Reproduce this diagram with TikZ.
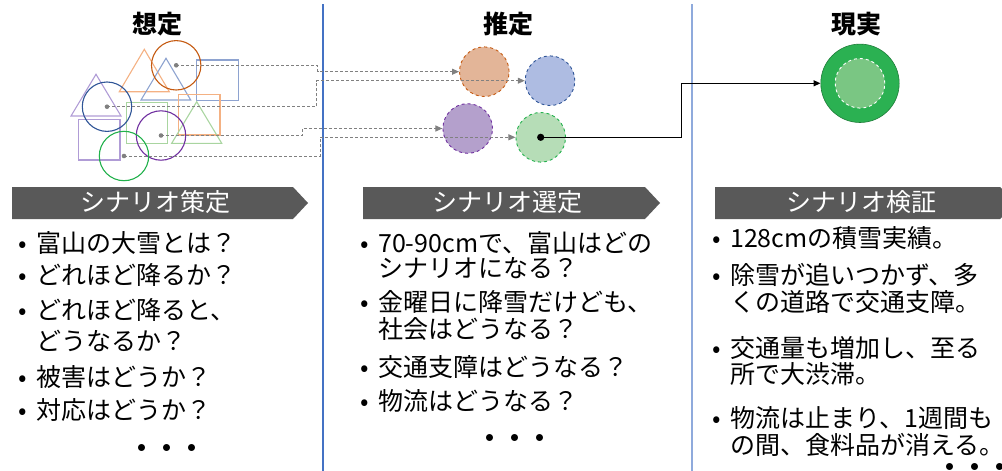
\documentclass[tikz,border=0pt]{standalone}
\usepackage{fontspec}
\setmainfont{Noto Sans CJK JP}
\usetikzlibrary{arrows.meta}
\definecolor{cOrange}{HTML}{C55A11}
\definecolor{cOrangeL}{HTML}{F4B183}
\definecolor{cBlue}{HTML}{2F5597}
\definecolor{cBlueL}{HTML}{8EA3D0}
\definecolor{cPurple}{HTML}{7030A0}
\definecolor{cPurpleL}{HTML}{B09CD6}
\definecolor{cGreen}{HTML}{22B14C}
\definecolor{cGreenL}{HTML}{A9D5A0}
\definecolor{fOrange}{HTML}{E3B598}
\definecolor{fBlue}{HTML}{AEBCE2}
\definecolor{fPurple}{HTML}{B4A0CC}
\definecolor{fGreen}{HTML}{B6DDB7}
\definecolor{realG}{HTML}{2BB152}
\definecolor{realGin}{HTML}{7AC683}
\definecolor{banner}{HTML}{595959}
\definecolor{divA}{HTML}{4472C4}
\definecolor{divB}{HTML}{8FAADC}
\definecolor{conngray}{HTML}{808080}
\newcommand{\bul}{\llap{\makebox[26pt][c]{•}}}
\begin{document}
\begin{tikzpicture}[x=1pt,y=-1pt,
  shp/.style={line width=1.1pt},
  ring/.style={circle, draw, line width=1.1pt, minimum size=49.4pt, inner sep=0pt},
  est/.style={circle, draw, dashed, line width=0.9pt, minimum size=49.6pt, inner sep=0pt},
  conn/.style={draw=conngray, line width=1pt, dash pattern=on 3pt off 2pt, -{Triangle[length=7pt,width=6pt]}},
  solidconn/.style={draw=black, line width=1.2pt, -{Triangle[length=7pt,width=6pt]}},
  item/.style={anchor=west, inner sep=0pt, font=\fontsize{25}{30}\selectfont, text height=21.5pt, text depth=3.5pt},
  headtxt/.style={inner sep=0pt, text=white, font=\fontsize{25}{30}\selectfont, text height=21.5pt, text depth=3.5pt},
  title/.style={inner sep=0pt, font=\bfseries\fontsize{25}{30}\selectfont, text height=21.5pt, text depth=3.5pt},
  dotsnode/.style={inner sep=0pt, font=\bfseries\fontsize{25}{30}\selectfont, text height=21.5pt, text depth=3.5pt}]
\useasboundingbox (0,0) rectangle (1002,471);

% dividers
\draw[divA, line width=1.2pt] (323,4) -- (323,471);
\draw[divB, line width=1.2pt] (692,4) -- (692,471);

% titles
\node[title] (t1) at (157,24) {想定};
\node[title] (t2) at (508,24) {推定};
\node[title] (t3) at (856,24) {現実};

% left cluster: triangles and squares
\draw[shp, cOrangeL] (144.3,49.3) -- (169.3,91.7) -- (119.3,91.7) -- cycle;
\draw[shp, cBlueL] (166,58.3) -- (190.7,100) -- (141,100) -- cycle;
\draw[shp, cBlueL] (196.7,60) rectangle (238.3,100.7);
\draw[shp, cPurpleL] (96,74.3) -- (121,116) -- (71,116) -- cycle;
\draw[shp, cGreenL] (126.7,102.3) rectangle (167.3,143.3);
\draw[shp, cOrangeL] (178.3,94.3) rectangle (220,135);
\draw[shp, cGreenL] (196.7,101.7) -- (221.7,143.3) -- (171.7,143.3) -- cycle;
\draw[shp, cPurpleL] (78.3,119.3) rectangle (120,160);

% left cluster: circles
\node[ring, draw=cOrange] (oc) at (176.2,65.3) {};
\node[ring, draw=cBlue] (bc) at (107,106.7) {};
\node[ring, draw=cPurple] (pc) at (161,135.5) {};
\node[ring, draw=cGreen] (gc) at (124,156) {};

% estimate circles
\node[est, draw=cOrange, fill=fOrange] (eo) at (484.3,71.7) {};
\node[est, draw=cBlue, fill=fBlue] (eb) at (550,80.7) {};
\node[est, draw=cPurple, fill=fPurple] (ep) at (467.7,128.5) {};
\node[est, draw=cGreen, fill=fGreen] (eg) at (540.7,137.3) {};

% reality circle
\node[circle, fill=realG, draw=realG!70!black, line width=0.6pt, minimum size=78.4pt, inner sep=0pt] (real) at (860,83.3) {};
\node[circle, fill=realGin, draw=white, dashed, line width=0.9pt, minimum size=49.6pt, inner sep=0pt] (realin) at (real.center) {};

% bend coordinates
\coordinate (b1) at (317.7,71.7);
\coordinate (b2) at (316.7,80.7);
\coordinate (b3) at (302.3,128.5);
\coordinate (b4) at (320,137.3);
\coordinate (b5) at (681.7,83.3);

% dashed connectors
\draw[conn] (oc.center) -| (b1) -- (eo.west);
\draw[conn] (bc.center) -| (b2) -- (eb.west);
\draw[conn] (pc.center) -| (b3) -- (ep.west);
\draw[conn] (gc.center) -| (b4) -- (eg.west);
\fill[conngray] (oc.center) circle (2.3);
\fill[conngray] (bc.center) circle (2.3);
\fill[conngray] (pc.center) circle (2.3);
\fill[conngray] (gc.center) circle (2.3);

% solid connector
\draw[solidconn] (eg.center) -| (b5) -- (real.west);
\fill[black] (eg.center) circle (3.6);

% banners
\fill[banner] (12,187) -- (293,187) -- (308,203) -- (293,219) -- (12,219) -- cycle;
\fill[banner] (363,187) -- (645,187) -- (660,203) -- (645,219) -- (363,219) -- cycle;
\fill[banner] (715,187) -- (1000,187) -- (1016,203) -- (1000,219) -- (715,219) -- cycle;
\node[headtxt] (h1) at (155.5,202) {シナリオ策定};
\node[headtxt] (h2) at (507,202) {シナリオ選定};
\node[headtxt] (h3) at (861,202) {シナリオ検証};

% left column
\node[item] (l1) at (36,243) {\bul 富山の大雪とは？};
\node[item] (l2) at (36,275.5) {\bul どれほど降るか？};
\node[item] (l3) at (36,310.5) {\bul どれほど降ると、};
\node[item] (l3b) at (36,341.5) {どうなるか？};
\node[item] (l4) at (36,377) {\bul 被害はどうか？};
\node[item] (l5) at (36,410) {\bul 対応はどうか？};
\node[dotsnode] (ld) at (167,448.5) {・・・};

% middle column
\node[item] (m1) at (378,243) {\bul 70-90cmで、富山はどの};
\node[item] (m1b) at (378,268.5) {シナリオになる？};
\node[item] (m2) at (378,302) {\bul 金曜日に降雪だけども、};
\node[item] (m2b) at (378,329) {社会はどうなる？};
\node[item] (m3) at (378,367) {\bul 交通支障はどうなる？};
\node[item] (m4) at (378,401) {\bul 物流はどうなる？};
\node[dotsnode] (md) at (515,438.5) {・・・};

% right column
\node[item] (r1) at (730,238) {\bul 128cmの積雪実績。};
\node[item] (r2) at (730,275.5) {\bul 除雪が追いつかず、多};
\node[item] (r2b) at (730,302.5) {くの道路で交通支障。};
\node[item] (r3) at (730,348) {\bul 交通量も増加し、至る};
\node[item] (r3b) at (730,374) {所で大渋滞。};
\node[item] (r4) at (730,418) {\bul 物流は止まり、1週間も};
\node[item] (r4b) at (730,445) {の間、食料品が消える。};
\node[dotsnode] (rd) at (975,467) {・・・};
\end{tikzpicture}
\end{document}
